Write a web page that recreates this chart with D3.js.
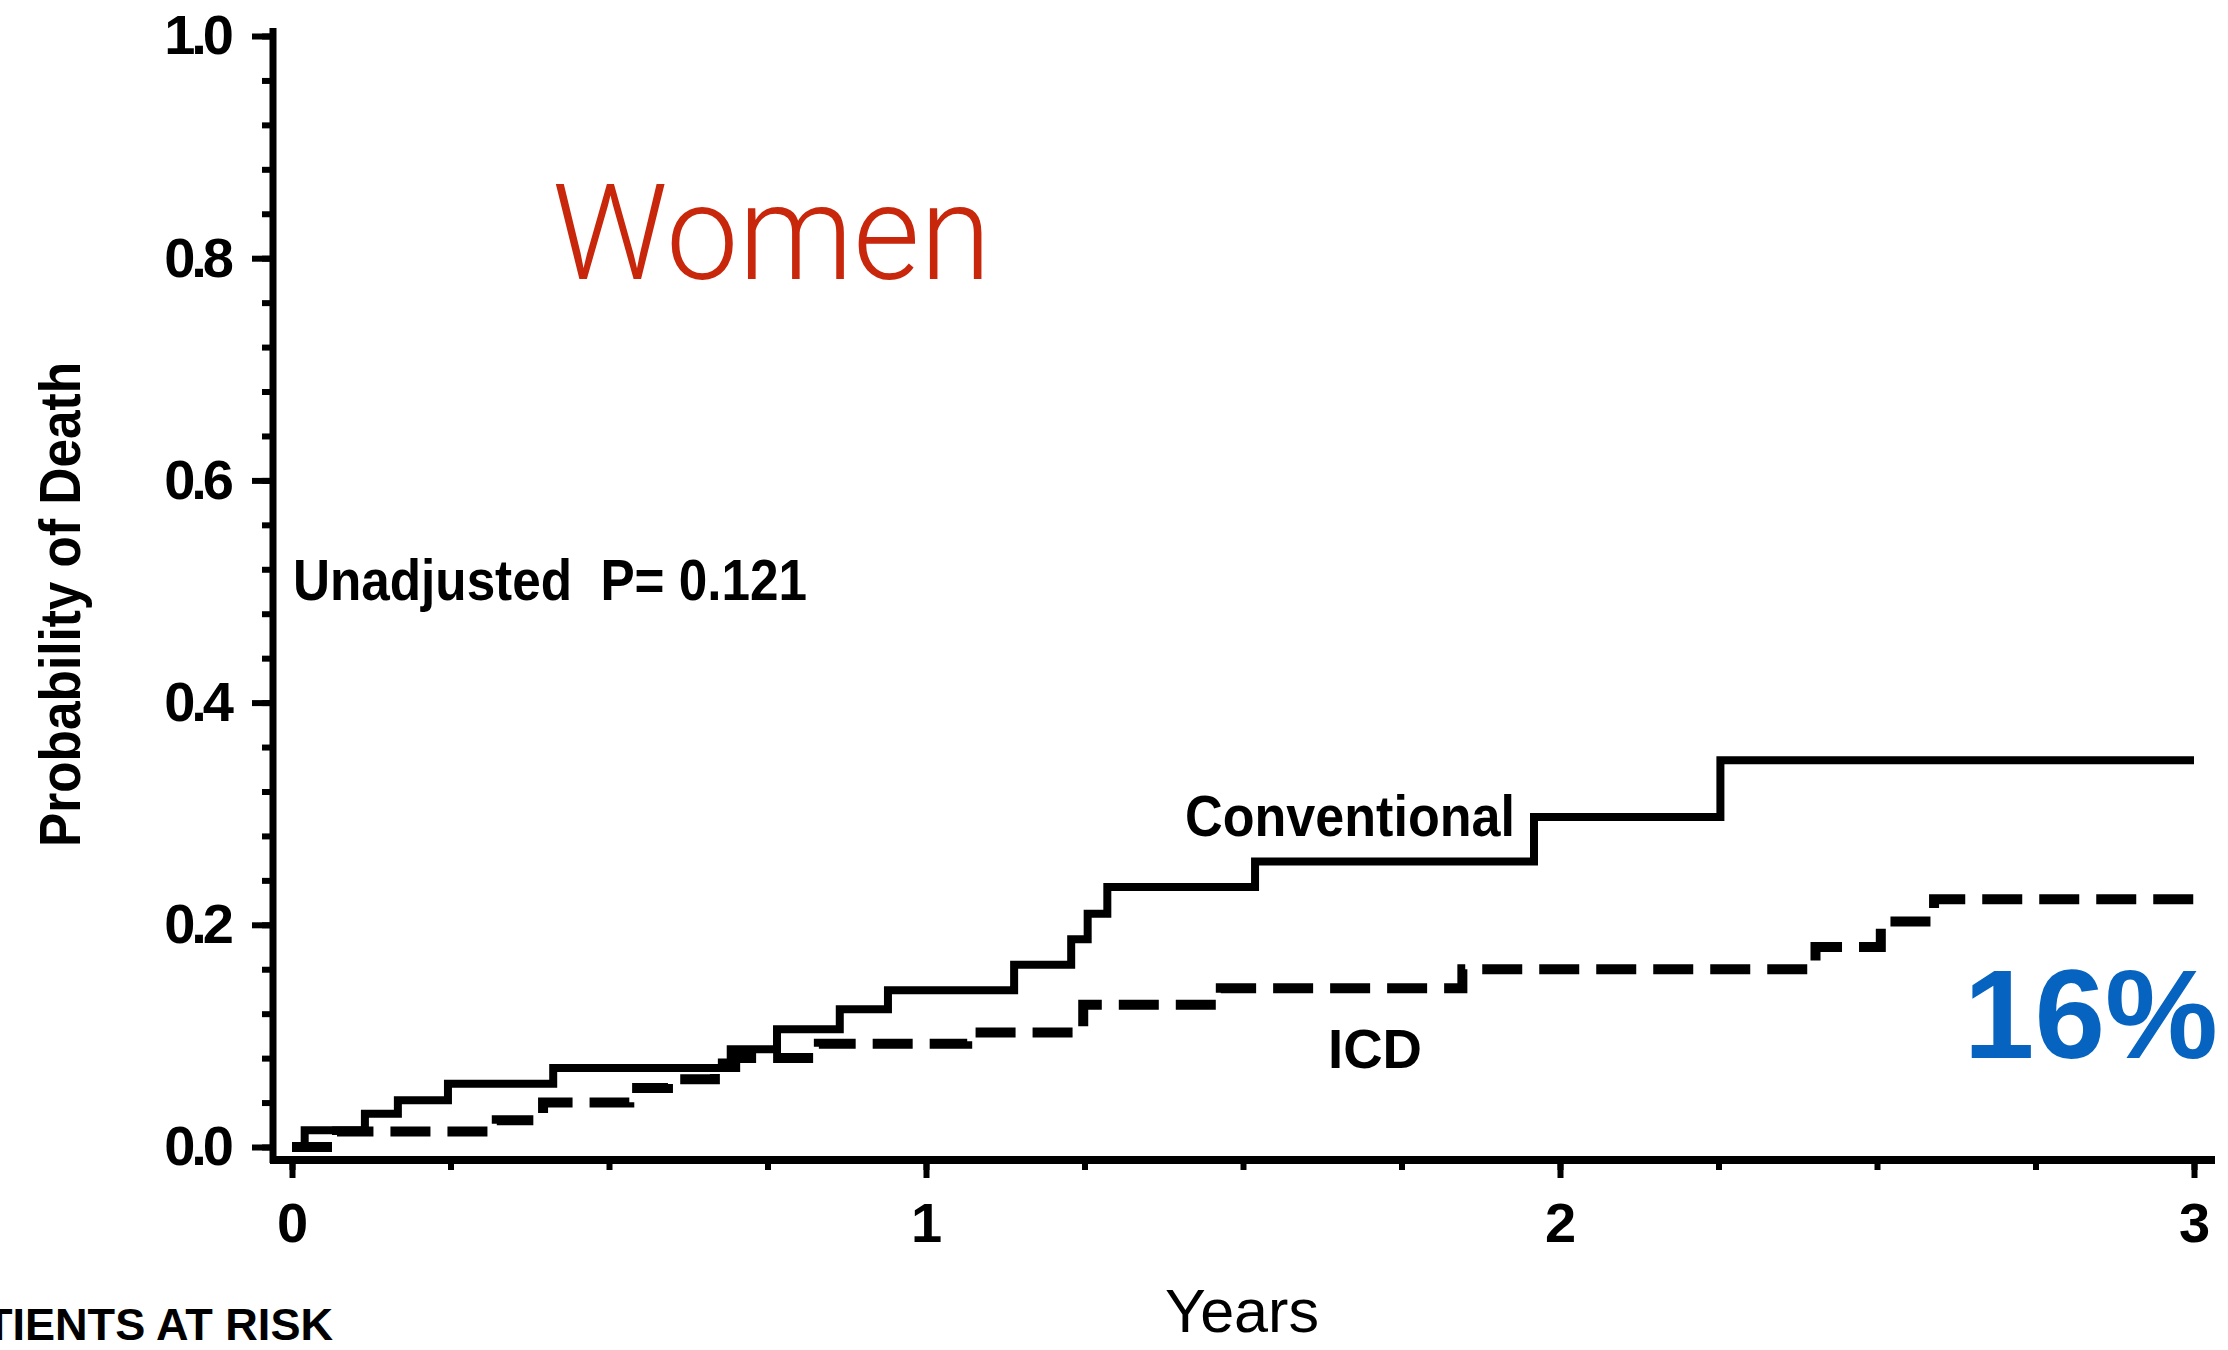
<!DOCTYPE html>
<html>
<head>
<meta charset="utf-8">
<script src="https://cdn.jsdelivr.net/npm/d3@7"></script>
<style>
    body { margin: 0; background: #fff; }
    svg { display: block; }
</style>
</head>
<body>
<div id="chart"></div>
<script>
var width = 2228;
var height = 1350;

// Kaplan-Meier steps (years, probability of death)
var convYears = [0, 0.02, 0.115, 0.167, 0.246, 0.412, 0.678, 0.692, 0.765, 0.864, 0.94, 1.139, 1.229, 1.255, 1.286, 1.519, 1.959, 2.253, 3.0];
var convProb  = [0, 0.015, 0.030, 0.042, 0.057, 0.071, 0.076, 0.088, 0.106, 0.124, 0.141, 0.164, 0.187, 0.210, 0.234, 0.257, 0.297, 0.348, 0.348];

var icdYears = [0, 0.071, 0.323, 0.396, 0.532, 0.593, 0.667, 0.699, 0.831, 1.065, 1.248, 1.465, 1.846, 2.403, 2.506, 2.59, 3.0];
var icdProb  = [0, 0.014, 0.024, 0.040, 0.053, 0.061, 0.072, 0.080, 0.093, 0.103, 0.128, 0.143, 0.160, 0.180, 0.203, 0.223, 0.223];

var yTicks = [0, 0.2, 0.4, 0.6, 0.8, 1.0];
var yMinorTicks = d3.range(0, 1.0001, 0.04);
var xTicks = [0, 1, 2, 3];
var xMinorTicks = d3.range(0, 3.0001, 0.25);

var labelFont = "'Liberation Sans', Arial, Helvetica, sans-serif";

var xScale = d3.scaleLinear().domain([0, 3]).range([292, 2194]);
var yScale = d3.scaleLinear().domain([0, 1]).range([1147, 36]);
var axisX = 273;   // where the y axis sits
var axisY = 1160;  // where the x axis sits

var chart = d3.select("#chart")
    .append("svg")
    .attr("width", width)
    .attr("height", height);

/* y axis: minor ticks, then major ticks with labels */
chart.append("g")
    .attr("transform", "translate(" + axisX + ",0)")
    .call(d3.axisLeft(yScale).tickValues(yMinorTicks).tickSize(11).tickFormat(""))
    .call(function (g) { g.select(".domain").remove(); })
    .selectAll("line").attr("stroke", "#000").attr("stroke-width", 6);

var yAxisG = chart.append("g")
    .attr("transform", "translate(" + axisX + ",0)")
    .call(d3.axisLeft(yScale).tickValues(yTicks).tickSize(21).tickPadding(22).tickFormat(d3.format(".1f")));
yAxisG.select(".domain").remove();
yAxisG.selectAll("line").attr("stroke", "#000").attr("stroke-width", 6);
yAxisG.selectAll("text")
    .attr("fill", "#000")
    .style("font-family", labelFont)
    .style("font-size", "56px")
    .style("font-weight", "bold")
    .style("letter-spacing", "-4px");

/* x axis */
chart.append("g")
    .attr("transform", "translate(0," + axisY + ")")
    .call(d3.axisBottom(xScale).tickValues(xMinorTicks).tickSize(10).tickFormat(""))
    .call(function (g) { g.select(".domain").remove(); })
    .selectAll("line").attr("stroke", "#000").attr("stroke-width", 6);

var xAxisG = chart.append("g")
    .attr("transform", "translate(0," + axisY + ")")
    .call(d3.axisBottom(xScale).tickValues(xTicks).tickSize(18).tickPadding(24).tickFormat(d3.format("d")));
xAxisG.select(".domain").remove();
xAxisG.selectAll("line").attr("stroke", "#000").attr("stroke-width", 6);
xAxisG.selectAll("text")
    .attr("fill", "#000")
    .style("font-family", labelFont)
    .style("font-size", "56px")
    .style("font-weight", "bold");

// axis lines (offset SAS style, they run a bit past the data range)
chart.append("line")
    .attr("x1", axisX).attr("x2", axisX)
    .attr("y1", yScale(1) - 8).attr("y2", axisY + 3)
    .attr("stroke", "#000").attr("stroke-width", 7);
chart.append("line")
    .attr("x1", axisX - 3).attr("x2", xScale(3) + 21)
    .attr("y1", axisY).attr("y2", axisY)
    .attr("stroke", "#000").attr("stroke-width", 8);

/* the two step curves */
var stepLine = d3.line()
    .curve(d3.curveStepAfter)
    .x(function (d) { return xScale(d.x); })
    .y(function (d) { return yScale(d.y); });

var convData = convYears.map(function (t, i) { return {x: t, y: convProb[i]}; });
var icdData = icdYears.map(function (t, i) { return {x: t, y: icdProb[i]}; });

chart.append("path")
    .attr("d", stepLine(convData))
    .style("fill", "none")
    .style("stroke", "#000")
    .style("stroke-width", 8);

chart.append("path")
    .attr("d", stepLine(icdData))
    .style("fill", "none")
    .style("stroke", "#000")
    .style("stroke-width", 10)
    .style("stroke-dasharray", "40,17");

/* text labels */
chart.append("text")
    .attr("transform", "translate(80,847) rotate(-90)")
    .attr("textLength", 485)
    .attr("lengthAdjust", "spacingAndGlyphs")
    .style("font-family", labelFont)
    .style("font-size", "58px")
    .style("font-weight", "bold")
    .text("Probability of Death");

chart.append("text")
    .attr("x", 1165).attr("y", 1332)
    .attr("textLength", 154)
    .attr("lengthAdjust", "spacingAndGlyphs")
    .style("font-family", labelFont)
    .style("font-size", "62px")
    .text("Years");

chart.append("text")
    .attr("x", 293).attr("y", 600)
    .attr("textLength", 514)
    .attr("lengthAdjust", "spacingAndGlyphs")
    .style("font-family", labelFont)
    .style("font-size", "58px")
    .style("font-weight", "bold")
    .style("white-space", "pre")
    .text("Unadjusted  P= 0.121");

chart.append("text")
    .attr("x", 1185).attr("y", 836)
    .attr("textLength", 330)
    .attr("lengthAdjust", "spacingAndGlyphs")
    .style("font-family", labelFont)
    .style("font-size", "57px")
    .style("font-weight", "bold")
    .text("Conventional");

chart.append("text")
    .attr("x", 1328).attr("y", 1068)
    .attr("textLength", 94)
    .attr("lengthAdjust", "spacingAndGlyphs")
    .style("font-family", labelFont)
    .style("font-size", "56px")
    .style("font-weight", "bold")
    .text("ICD");

// the reference crops this row header at the left edge
chart.append("text")
    .attr("x", 333).attr("y", 1340)
    .attr("text-anchor", "end")
    .attr("textLength", 404)
    .attr("lengthAdjust", "spacingAndGlyphs")
    .style("font-family", labelFont)
    .style("font-size", "44px")
    .style("font-weight", "bold")
    .text("PATIENTS AT RISK");

chart.append("text")
    .attr("x", 552).attr("y", 279)
    .attr("textLength", 439)
    .attr("lengthAdjust", "spacingAndGlyphs")
    .style("font-family", "Roboto, 'Liberation Sans', sans-serif")
    .style("font-size", "134px")
    .style("font-weight", 300)
    .style("fill", "#c8270b")
    .text("Women");

chart.append("text")
    .attr("x", 2218).attr("y", 1058)
    .attr("text-anchor", "end")
    .style("font-family", labelFont)
    .style("font-size", "127px")
    .style("font-weight", "bold")
    .style("fill", "#0663bf")
    .text("16%");
</script>
</body>
</html>
